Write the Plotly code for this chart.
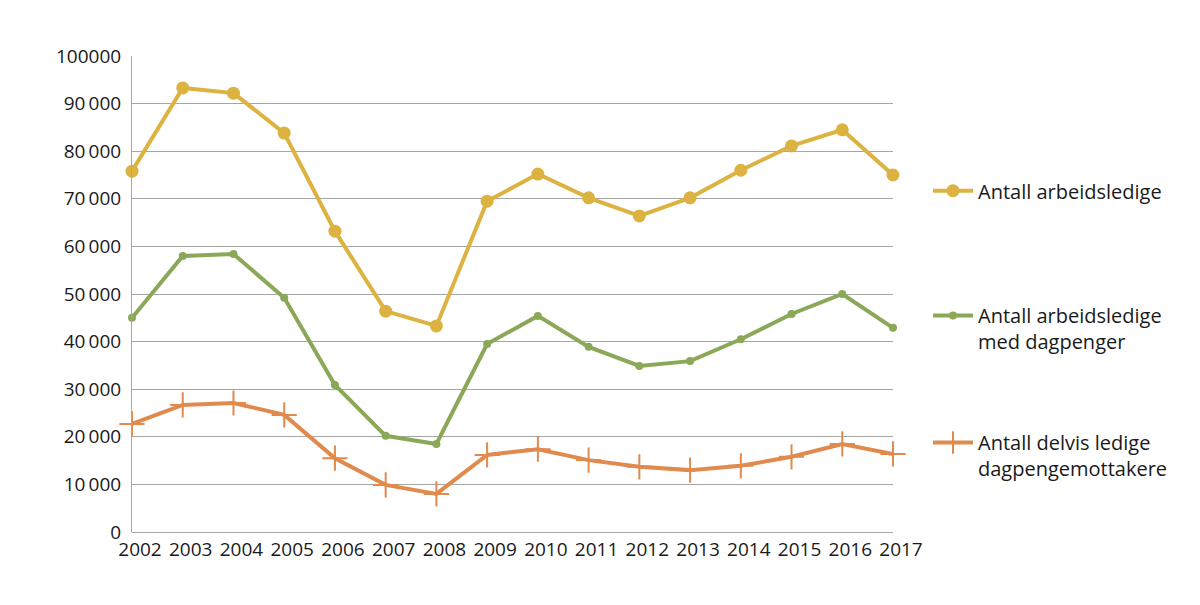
import plotly.graph_objects as go

years = list(range(2002, 2018))
arbeidsledige = [75800, 93300, 92200, 83800, 63200, 46400, 43300, 69500, 75200, 70200, 66400, 70200, 76000, 81100, 84500, 75000]
med_dagpenger = [45000, 58000, 58400, 49200, 30900, 20200, 18500, 39500, 45400, 38900, 34900, 35900, 40500, 45800, 50000, 42900]
delvis_ledige = [22700, 26700, 27100, 24600, 15500, 9900, 8000, 16200, 17400, 15100, 13700, 13000, 13900, 15800, 18500, 16400]

y_tickvals = [0, 10000, 20000, 30000, 40000, 50000, 60000, 70000, 80000, 90000, 100000]
y_ticktext = ["0", "10\u2009000", "20\u2009000", "30\u2009000", "40\u2009000", "50\u2009000",
              "60\u2009000", "70\u2009000", "80\u2009000", "90\u2009000", "100000"]

names = ["Antall arbeidsledige", "Antall arbeidsledige<br>med dagpenger", "Antall delvis ledige<br>dagpengemottakere"]
colors = ["#DCB340", "#8AA858", "#E08A4E"]

fig = go.Figure()
fig.add_trace(go.Scatter(x=years, y=arbeidsledige, name=names[0], mode="lines+markers",
                         line=dict(color=colors[0], width=4),
                         marker=dict(symbol="circle", size=13, color=colors[0]),
                         cliponaxis=False, legend="legend", showlegend=True))
fig.add_trace(go.Scatter(x=years, y=med_dagpenger, name=names[1], mode="lines+markers",
                         line=dict(color=colors[1], width=4),
                         marker=dict(symbol="circle", size=8, color=colors[1]),
                         cliponaxis=False, legend="legend2", showlegend=True))
fig.add_trace(go.Scatter(x=years, y=delvis_ledige, name=names[2], mode="lines+markers",
                         line=dict(color=colors[2], width=4),
                         marker=dict(symbol="cross-thin", size=18, color=colors[2],
                                     line=dict(color=colors[2], width=2)),
                         cliponaxis=False, legend="legend3", showlegend=True))

legend_common = dict(font=dict(family="Open Sans", size=20, color="#1a1a1a"),
                     bgcolor="rgba(0,0,0,0)", xanchor="left", yanchor="top",
                     valign="top", itemwidth=40, visible=True)

fig.update_layout(
    width=1200, height=605,
    margin=dict(l=132, r=307, t=56, b=73),
    paper_bgcolor="white", plot_bgcolor="white",
    showlegend=True,
    font=dict(family="Open Sans", size=19, color="#1a1a1a"),
    legend=dict(x=1.046, y=0.758, **legend_common),
    legend2=dict(x=1.046, y=0.496, **legend_common),
    legend3=dict(x=1.046, y=0.229, **legend_common),
    xaxis=dict(range=[2002, 2017], tickvals=years, ticktext=[str(y) for y in years],
               showgrid=False, showline=False, zeroline=False, ticks="",
               ticklabelstandoff=4, ticklabelshift=8,
               tickfont=dict(family="Open Sans", size=19, color="#1a1a1a")),
    yaxis=dict(range=[0, 100000], tickvals=y_tickvals, ticktext=y_ticktext,
               showgrid=True, gridcolor="#A6A6A6", gridwidth=1,
               showline=True, linecolor="#A6A6A6", linewidth=1,
               zeroline=True, zerolinecolor="#A6A6A6", zerolinewidth=1,
               ticks="", ticklabelstandoff=6,
               tickfont=dict(family="Open Sans", size=19, color="#1a1a1a")),
)

fig.write_html("out.html", config={"displayModeBar": False},
               post_script="document.body.style.margin='0';document.body.style.padding='0';")
